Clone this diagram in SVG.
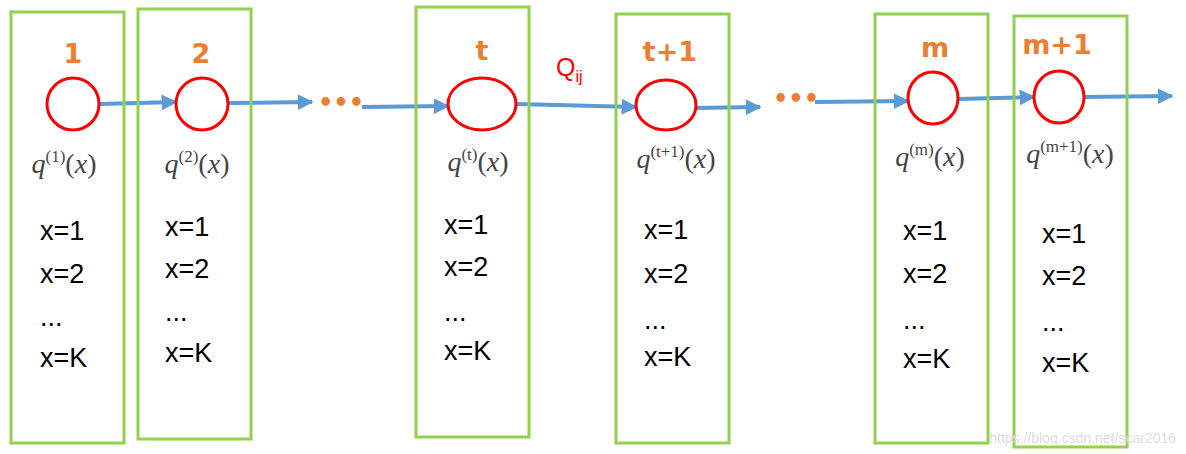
<svg xmlns="http://www.w3.org/2000/svg" width="1186" height="454" viewBox="0 0 1186 454">
<defs>
<marker id="ah" viewBox="0 0 10 10" refX="9" refY="5" markerWidth="4" markerHeight="4" orient="auto" markerUnits="strokeWidth"><path d="M0,0 L10,5 L0,10 z" fill="#5B9BD5"/></marker>
<style>
.box{fill:none;stroke:#92D050;stroke-width:3}
.c{fill:#fff;stroke:#FF0000;stroke-width:3}
.n{font-family:"DejaVu Sans",sans-serif;font-weight:bold;font-size:27px;fill:#ED7D31;text-anchor:middle}
.q{font-family:"Liberation Serif",serif;font-size:28px;fill:#444;text-anchor:middle}
.q tspan.s{font-size:17px;font-style:normal}
.x{font-family:"Liberation Sans",sans-serif;font-size:27px;fill:#000}
.e{stroke:#5B9BD5;stroke-width:4;fill:none;marker-end:url(#ah)}
.d{font-family:"DejaVu Sans",sans-serif;font-weight:bold;font-size:24px;fill:#ED7D31}
</style>
</defs>
<g id="connectors">
<line class="e" x1="99" y1="104" x2="176" y2="102"/>
<line class="e" x1="228" y1="103" x2="312" y2="102"/>
<line class="e" x1="362" y1="107" x2="448" y2="106"/>
<line class="e" x1="516" y1="104" x2="636" y2="107"/>
<line class="e" x1="696" y1="108" x2="760" y2="107"/>
<line class="e" x1="815" y1="102" x2="908" y2="101"/>
<line class="e" x1="958" y1="99" x2="1034" y2="97"/>
<line class="e" x1="1084" y1="97" x2="1172" y2="96"/>
<text class="d" x="318" y="111">•••</text>
<text class="d" x="773" y="107">•••</text>
<text x="556" y="76" font-family="Liberation Sans,sans-serif" font-size="25" fill="#FF0000">Q<tspan font-size="16" dy="6">ij</tspan></text>
</g>
<g id="n1"><rect class="box" x="11" y="12" width="113" height="431"/><text class="n" x="73" y="63">1</text><ellipse class="c" cx="73" cy="104" rx="26" ry="26"/><text class="q" x="64" y="173"><tspan font-style="italic">q</tspan><tspan class="s" dy="-11">(1)</tspan><tspan dy="11">(</tspan><tspan font-style="italic">x</tspan>)</text>
<text class="x" x="40" y="240">x=1</text><text class="x" x="40" y="283">x=2</text><text class="x" x="40" y="326">...</text><text class="x" x="40" y="367">x=K</text></g>
<g id="n2"><rect class="box" x="138" y="9" width="113" height="430"/><text class="n" x="201" y="63">2</text><ellipse class="c" cx="202" cy="104" rx="26" ry="26"/><text class="q" x="197" y="173"><tspan font-style="italic">q</tspan><tspan class="s" dy="-11">(2)</tspan><tspan dy="11">(</tspan><tspan font-style="italic">x</tspan>)</text>
<text class="x" x="165" y="236">x=1</text><text class="x" x="165" y="278">x=2</text><text class="x" x="165" y="321">...</text><text class="x" x="165" y="362">x=K</text></g>
<g id="nt"><rect class="box" x="416" y="7" width="113" height="430"/><text class="n" x="482" y="60">t</text><ellipse class="c" cx="482" cy="104" rx="34" ry="26"/><text class="q" x="478" y="171"><tspan font-style="italic">q</tspan><tspan class="s" dy="-11">(t)</tspan><tspan dy="11">(</tspan><tspan font-style="italic">x</tspan>)</text>
<text class="x" x="444" y="234">x=1</text><text class="x" x="444" y="276">x=2</text><text class="x" x="444" y="321">...</text><text class="x" x="444" y="360">x=K</text></g>
<g id="nt1"><rect class="box" x="616" y="14" width="113" height="429"/><text class="n" x="670" y="61">t+1</text><ellipse class="c" cx="666" cy="105" rx="30" ry="25"/><text class="q" x="676" y="168"><tspan font-style="italic">q</tspan><tspan class="s" dy="-11">(t+1)</tspan><tspan dy="11">(</tspan><tspan font-style="italic">x</tspan>)</text>
<text class="x" x="644" y="239">x=1</text><text class="x" x="644" y="283">x=2</text><text class="x" x="644" y="329">...</text><text class="x" x="644" y="366">x=K</text></g>
<g id="nm"><rect class="box" x="875" y="14" width="113" height="429"/><text class="n" x="935" y="57">m</text><ellipse class="c" cx="933" cy="98" rx="25" ry="26"/><text class="q" x="930" y="166"><tspan font-style="italic">q</tspan><tspan class="s" dy="-11">(m)</tspan><tspan dy="11">(</tspan><tspan font-style="italic">x</tspan>)</text>
<text class="x" x="903" y="240">x=1</text><text class="x" x="903" y="283">x=2</text><text class="x" x="903" y="329">...</text><text class="x" x="903" y="368">x=K</text></g>
<g id="nm1"><rect class="box" x="1014" y="16" width="113" height="431"/><text class="n" x="1057" y="54">m+1</text><ellipse class="c" cx="1059" cy="97" rx="25" ry="26"/><text class="q" x="1070" y="163"><tspan font-style="italic">q</tspan><tspan class="s" dy="-11">(m+1)</tspan><tspan dy="11">(</tspan><tspan font-style="italic">x</tspan>)</text>
<text class="x" x="1042" y="243">x=1</text><text class="x" x="1042" y="285">x=2</text><text class="x" x="1042" y="331">...</text><text class="x" x="1042" y="372">x=K</text></g>
<text x="1176" y="443" text-anchor="end" font-family="Liberation Sans,sans-serif" font-size="14" fill="#ddd">https://blog.csdn.net/scar2016</text>
</svg>
